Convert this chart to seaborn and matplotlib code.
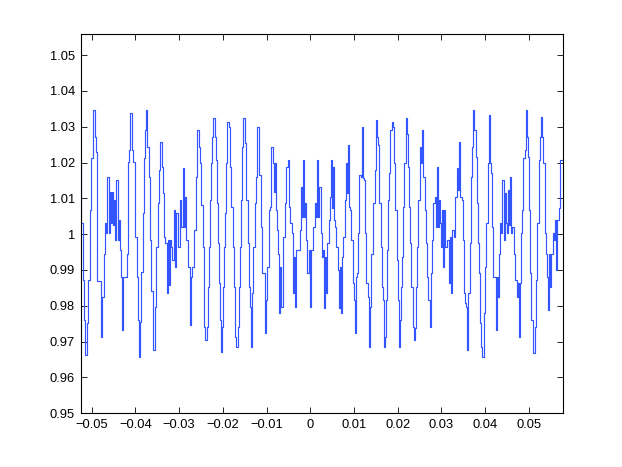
import numpy as np
import pandas as pd
import matplotlib
matplotlib.use("Agg")
import matplotlib.pyplot as plt
import seaborn as sns

# step-change times (ms) and the level held after each time
time_ms = [
 -52.52,-52.37,-51.91,-51.68,-51.46,-51.07,-50.77,-50.31,-50.08,-49.78,-49.63,-49.32,-49.09,-48.86,-47.95,-47.64,-47.26,-46.96,-46.73,-46.43,
 -46.12,-45.89,-45.59,-45.36,-45.13,-44.82,-44.60,-44.37,-44.06,-43.83,-43.53,-43.22,-42.99,-42.77,-42.00,-41.70,-41.39,-41.17,-40.86,-40.56,
 -40.17,-39.72,-39.49,-39.26,
 -39.03,-38.65,-38.27,-38.04,-37.74,-37.51,-37.28,-36.97,-36.75,-36.36,-36.06,-35.91,-35.60,-35.22,-34.84,-34.53,-34.31,-33.92,-33.77,-33.47,
 -33.16,-32.78,-32.55,-32.32,-32.10,-31.79,-31.56,-31.18,-30.88,-30.65,-30.34,-29.73,-29.50,-29.20,-28.97,-28.74,-28.36,-27.98,-27.60,-27.37,
 -26.99,-26.61,-26.07,-25.84,
 -25.46,-25.24,-24.93,-24.62,-24.40,-24.24,-24.02,-23.71,-23.41,-23.18,-22.95,-22.72,-22.49,-22.19,-21.88,-21.65,-21.42,-21.19,-20.97,-20.74,
 -20.51,-20.20,-19.97,-19.75,-19.52,-19.29,-18.98,-18.60,-18.37,-18.07,-17.76,-17.54,-17.23,-16.93,-16.54,-16.32,-16.09,-15.94,-15.63,-15.32,
 -15.02,-14.64,-14.33,-14.11,-13.88,-13.65,-13.42,-13.12,-12.73,-12.43,-12.12,
 -11.74,-11.36,-10.98,-10.45,-10.30,-10.07,-9.84,-9.46,-9.15,-8.92,-8.62,-8.39,-8.16,-7.93,-7.63,-7.40,-7.17,-6.86,-6.64,-6.26,
 -5.87,-5.49,-5.11,-4.96,-4.58,-4.12,-3.89,-3.66,-3.43,-3.21,-2.44,-2.21,-1.99,-1.76,-1.53,-1.30,-0.92,-0.69,-0.39,-0.08,
 0.22,0.68,0.99,1.22,1.44,1.75,1.98,
 2.43,2.59,2.89,3.12,3.43,3.66,3.88,4.19,4.49,4.72,5.03,5.26,5.48,5.71,5.94,6.32,6.55,6.78,7.01,7.24,
 7.54,7.85,8.08,8.30,8.53,8.76,9.07,9.37,9.68,9.91,10.21,10.44,10.74,10.97,11.20,11.51,11.74,11.96,12.27,12.50,
 12.80,13.18,13.41,13.64,13.95,14.33,14.71,15.01,15.24,15.47,15.77,
 16.16,16.38,16.61,16.77,17.07,17.30,17.53,17.83,18.06,18.29,18.60,18.90,19.13,19.43,19.74,20.04,20.27,20.58,20.81,21.03,
 21.26,21.49,21.80,22.10,22.33,22.64,22.86,23.09,23.40,23.63,23.93,24.16,24.39,24.69,25.00,25.23,25.53,25.84,26.14,26.45,
 26.75,26.98,27.29,27.51,27.82,28.12,28.43,28.66,28.89,29.19,29.42,
 29.65,29.88,30.10,30.33,30.56,30.79,31.32,31.63,31.93,32.24,32.47,32.77,33.15,33.46,33.76,33.99,34.30,34.60,34.83,35.06,
 35.29,35.67,35.90,36.13,36.43,36.66,36.97,37.19,37.50,37.80,38.11,38.34,38.57,38.87,39.10,39.33,39.63,39.94,40.24,40.55,
 40.78,41.08,41.39,41.62,41.84,42.38,42.61,
 42.91,43.14,43.37,43.67,43.90,44.21,44.44,44.66,44.97,45.27,45.50,45.73,45.96,46.19,46.49,46.72,47.26,47.48,47.71,47.94,
 48.25,48.48,48.70,49.01,49.24,49.54,49.77,50.00,50.31,50.53,50.84,51.37,51.60,51.91,52.21,52.44,52.67,52.90,53.13,53.58,
 53.81,54.04,54.34,54.57,54.88,55.11,55.41,55.64,55.87,56.10,56.33,56.94,57.17,57.71,
]

level = [
 1.0193,1.0030,0.9872,0.9760,0.9663,0.9751,0.9872,1.0067,1.0212,1.0268,1.0347,1.0272,1.0230,0.9868,0.9714,0.9826,0.9946,1.0030,1.0002,1.0160,
 1.0002,1.0119,1.0030,1.0119,1.0026,1.0095,0.9983,1.0151,0.9983,1.0040,0.9956,0.9881,0.9733,0.9881,0.9946,1.0202,1.0235,1.0337,1.0235,1.0202,
 0.9993,0.9881,0.9760,0.9658,
 0.9756,0.9895,1.0058,1.0212,1.0291,1.0347,1.0244,1.0160,0.9983,0.9840,0.9798,0.9677,0.9798,0.9965,1.0086,1.0179,1.0258,1.0188,1.0114,0.9993,
 0.9974,0.9835,0.9983,0.9858,0.9983,0.9965,0.9928,1.0067,0.9909,1.0058,0.9965,1.0095,1.0021,1.0184,1.0021,1.0105,0.9983,0.9909,0.9747,0.9881,
 0.9909,1.0012,1.0160,1.0291,
 1.0244,1.0198,1.0081,0.9965,0.9863,0.9742,0.9705,0.9742,0.9853,0.9965,1.0095,1.0198,1.0272,1.0323,1.0272,1.0207,1.0086,0.9974,0.9863,0.9760,
 0.9672,0.9742,0.9853,0.9965,1.0058,1.0198,1.0314,1.0300,1.0188,1.0077,0.9965,0.9853,0.9714,0.9686,0.9742,0.9853,0.9965,1.0095,1.0244,1.0323,
 1.0254,1.0095,0.9974,0.9853,0.9798,0.9686,0.9835,0.9965,1.0086,1.0160,1.0300,
 1.0165,1.0021,0.9891,0.9863,0.9723,0.9816,0.9909,1.0067,1.0077,1.0244,1.0198,1.0119,1.0198,1.0067,1.0012,0.9946,0.9779,0.9909,0.9798,0.9993,
 1.0086,1.0188,1.0207,1.0077,1.0030,1.0002,0.9835,0.9937,0.9798,0.9956,1.0012,1.0133,1.0049,1.0207,1.0049,1.0086,0.9983,0.9891,0.9956,0.9798,
 0.9956,1.0021,1.0086,1.0049,1.0207,1.0049,1.0133,
 1.0002,0.9937,0.9956,0.9793,0.9937,0.9835,0.9974,1.0040,1.0105,1.0207,1.0072,1.0188,1.0040,1.0021,0.9965,0.9900,0.9793,0.9909,0.9779,0.9937,
 0.9993,1.0095,1.0198,1.0114,1.0249,1.0077,1.0067,0.9983,0.9863,0.9816,0.9723,0.9881,0.9891,1.0002,1.0165,1.0160,1.0300,1.0156,1.0151,1.0002,
 0.9863,0.9826,0.9686,0.9798,0.9946,1.0086,1.0179,1.0319,1.0272,1.0249,1.0086,
 0.9965,0.9853,0.9816,0.9686,0.9714,0.9816,0.9956,1.0095,1.0170,1.0291,1.0314,1.0300,1.0198,1.0067,0.9928,0.9816,0.9686,0.9760,0.9853,0.9937,
 1.0077,1.0198,1.0323,1.0281,1.0188,1.0077,0.9974,0.9853,0.9742,0.9705,0.9737,0.9853,0.9965,1.0095,1.0244,1.0198,1.0291,1.0160,1.0067,0.9974,
 0.9881,0.9816,0.9742,0.9891,0.9983,1.0086,1.0105,1.0021,1.0188,1.0021,1.0095,
 1.0030,0.9965,1.0067,0.9909,1.0067,0.9965,0.9983,0.9863,0.9993,0.9835,1.0012,0.9993,1.0105,1.0184,1.0123,1.0258,1.0105,1.0095,0.9983,0.9835,
 0.9807,0.9798,0.9677,0.9835,0.9974,1.0160,1.0244,1.0347,1.0291,1.0216,1.0086,0.9974,0.9891,0.9751,0.9686,0.9658,0.9779,0.9909,1.0030,1.0198,
 1.0333,1.0198,1.0170,1.0021,0.9881,0.9733,0.9881,
 0.9826,0.9946,1.0030,1.0002,1.0151,0.9983,1.0114,1.0030,1.0002,1.0123,1.0026,1.0160,1.0002,1.0021,0.9946,0.9872,0.9826,0.9863,0.9714,0.9863,
 1.0002,1.0067,1.0212,1.0235,1.0347,1.0272,1.0216,1.0067,0.9891,0.9760,0.9667,0.9742,0.9872,1.0030,1.0207,1.0272,1.0328,1.0272,1.0198,1.0002,
 0.9946,0.9881,0.9789,0.9946,0.9853,0.9946,1.0002,0.9983,1.0040,0.9900,1.0040,1.0072,1.0207,1.0207,
]

x_ticks = [-0.05, -0.04, -0.03, -0.02, -0.01, 0.0, 0.01, 0.02, 0.03, 0.04, 0.05]
x_tick_labels = ["\u22120.05", "\u22120.04", "\u22120.03", "\u22120.02", "\u22120.01", "0",
                 "0.01", "0.02", "0.03", "0.04", "0.05"]
y_ticks = [0.95, 0.96, 0.97, 0.98, 0.99, 1.0, 1.01, 1.02, 1.03, 1.04, 1.05]
y_tick_labels = ["0.95", "0.96", "0.97", "0.98", "0.99", "1", "1.01", "1.02", "1.03", "1.04", "1.05"]

df = pd.DataFrame({"t": np.array(time_ms) / 1000.0, "v": level})

sns.set_style("white")
plt.rcParams["font.family"] = ["Liberation Sans", "DejaVu Sans"]

fig = plt.figure(figsize=(6.22, 4.67), dpi=100)
ax = fig.add_axes([0.1297, 0.1150, 0.7749, 0.8116])

sns.lineplot(data=df, x="t", y="v", ax=ax, estimator=None, sort=False,
             drawstyle="steps-post", color="#3355ff", linewidth=0.85)

ax.set_xlim(-0.05252, 0.05771)
ax.set_ylim(0.95, 1.0558)
ax.set_xticks(x_ticks)
ax.set_xticklabels(x_tick_labels)
ax.set_yticks(y_ticks)
ax.set_yticklabels(y_tick_labels)
ax.set_xlabel("")
ax.set_ylabel("")
ax.tick_params(direction="in", length=4, width=0.6, labelsize=9.3, colors="black",
               top=True, right=True, bottom=True, left=True, pad=4)
for s in ax.spines.values():
    s.set_visible(True)
    s.set_color("black")
    s.set_linewidth(0.8)

fig.savefig("out.png", dpi=100)
